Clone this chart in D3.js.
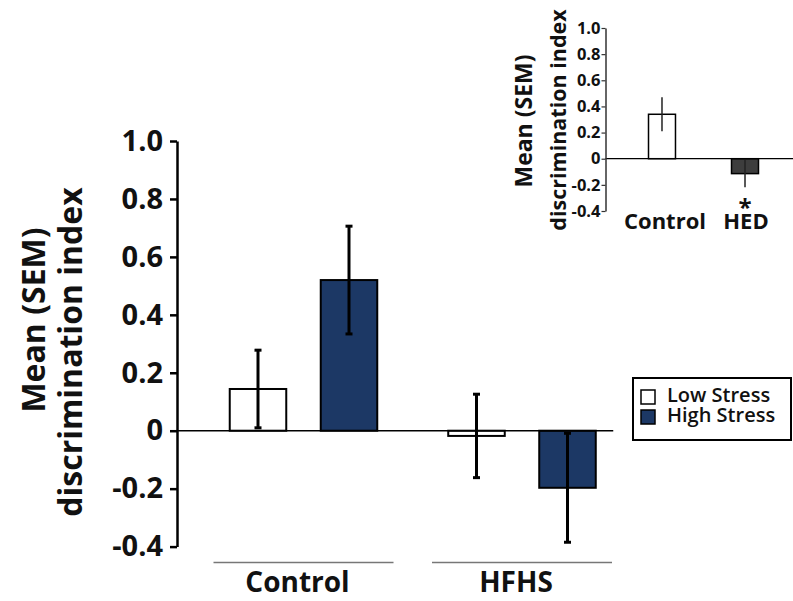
<!DOCTYPE html>
<html>
<head>
<meta charset="utf-8">
<script src="https://cdn.jsdelivr.net/npm/d3@7"></script>
<style>
  html, body { margin: 0; padding: 0; background: #fff; }
  svg { display: block; font-family: "Open Sans", "DejaVu Sans", sans-serif; }
</style>
</head>
<body>
<svg id="chart" width="793" height="601"></svg>
<script>
// ---- Main chart data ----
const groups = ["Control", "HFHS"];
const seriesNames = ["Low Stress", "High Stress"];
const lowStressMean = [0.144, -0.018];
const lowStressSem = [0.134, 0.144];
const highStressMean = [0.52, -0.197];
const highStressSem = [0.186, 0.188];
const mainTicks = [-0.4, -0.2, 0, 0.2, 0.4, 0.6, 0.8, 1.0];
const mainTickLabels = ["-0.4", "-0.2", "0", "0.2", "0.4", "0.6", "0.8", "1.0"];

// ---- Inset data ----
const insetGroups = ["Control", "HED"];
const insetMean = [0.34, -0.114];
const insetSem = [0.13, 0.105];
const insetTickLabels = ["-0.4", "-0.2", "0", "0.2", "0.4", "0.6", "0.8", "1.0"];

const colors = { "Low Stress": "#ffffff", "High Stress": "#1c3865" };
const insetColors = ["#ffffff", "#3d3d3d"];

const svg = d3.select("#chart");

// ================= MAIN CHART =================
const y = d3.scaleLinear().domain([-0.4, 1.0]).range([546.6, 141]);
const x0 = d3.scaleBand().domain(groups).range([194.25, 631.25]).paddingInner(0).paddingOuter(0);
const x1 = d3.scaleBand().domain(seriesNames).range([0, x0.bandwidth()]).paddingInner(0.379).paddingOuter(0.39);
const axisX = 177;

const rows = [];
groups.forEach((g, i) => {
  rows.push({ g, s: "Low Stress", v: lowStressMean[i], e: lowStressSem[i] });
  rows.push({ g, s: "High Stress", v: highStressMean[i], e: highStressSem[i] });
});

// bars
svg.append("g").selectAll("rect").data(rows).join("rect")
  .attr("x", d => x0(d.g) + x1(d.s))
  .attr("width", x1.bandwidth())
  .attr("y", d => y(Math.max(0, d.v)))
  .attr("height", d => Math.abs(y(d.v) - y(0)))
  .attr("fill", d => colors[d.s])
  .attr("stroke", "#000")
  .attr("stroke-width", 2);

// zero line
svg.append("line")
  .attr("x1", axisX).attr("x2", x0("HFHS") + x0.bandwidth() - 18)
  .attr("y1", y(0)).attr("y2", y(0))
  .attr("stroke", "#000").attr("stroke-width", 1.6);

// error bars
const eb = svg.append("g");
rows.forEach(d => {
  const cx = x0(d.g) + x1(d.s) + x1.bandwidth() / 2;
  eb.append("line").attr("x1", cx).attr("x2", cx)
    .attr("y1", y(d.v + d.e)).attr("y2", y(d.v - d.e))
    .attr("stroke", "#000").attr("stroke-width", 3);
  [d.v + d.e, d.v - d.e].forEach(val => {
    eb.append("line").attr("x1", cx - 3.5).attr("x2", cx + 3.5)
      .attr("y1", y(val)).attr("y2", y(val))
      .attr("stroke", "#000").attr("stroke-width", 3);
  });
});

// y axis
const yAxis = d3.axisLeft(y).tickValues(mainTicks)
  .tickFormat((d, i) => mainTickLabels[i]).tickSize(7).tickSizeOuter(0).tickPadding(7);
const gy = svg.append("g").attr("transform", `translate(${axisX},0)`).call(yAxis);
gy.select(".domain").attr("stroke", "#000").attr("stroke-width", 2.5);
gy.selectAll(".tick line").attr("stroke", "#000").attr("stroke-width", 2.5);
gy.selectAll(".tick text").attr("font-size", 29).attr("font-weight", "bold")
  .attr("fill", "#111").attr("font-family", "Open Sans, sans-serif");

// group underlines and labels
groups.forEach(g => {
  const c = x0(g) + x0.bandwidth() / 2;
  svg.append("line").attr("x1", c - 90).attr("x2", c + 90)
    .attr("y1", 562.5).attr("y2", 562.5)
    .attr("stroke", "#777").attr("stroke-width", 1.5);
  svg.append("text").attr("x", c - 6).attr("y", 592)
    .attr("text-anchor", "middle").attr("font-size", 28).attr("font-weight", "bold")
    .attr("fill", "#111").text(g);
});

// y axis title
svg.append("text").attr("transform", "translate(45,320) rotate(-90)")
  .attr("text-anchor", "middle").attr("font-size", 32).attr("font-weight", "bold")
  .attr("fill", "#111").text("Mean (SEM)");
svg.append("text").attr("transform", "translate(82,352) rotate(-90)")
  .attr("text-anchor", "middle").attr("font-size", 32).attr("font-weight", "bold")
  .attr("fill", "#111").text("discrimination index");

// legend
const lg = svg.append("g");
lg.append("rect").attr("x", 633).attr("y", 378).attr("width", 158).attr("height", 62)
  .attr("fill", "#fff").attr("stroke", "#000").attr("stroke-width", 2);
seriesNames.forEach((s, i) => {
  lg.append("rect").attr("x", 641).attr("y", 390 + i * 20).attr("width", 14).attr("height", 14)
    .attr("fill", colors[s]).attr("stroke", "#000").attr("stroke-width", 1.5);
  lg.append("text").attr("x", 667).attr("y", 402 + i * 20)
    .attr("font-size", 20).attr("font-weight", 600).attr("fill", "#111").text(s);
});

// ================= INSET =================
const yi = d3.scaleLinear().domain([-0.4, 1.0]).range([211, 28]);
const xi = d3.scaleBand().domain(insetGroups).range([607, 800]).paddingInner(0.675).paddingOuter(0.5);
const insetAxisX = 605.5;

svg.append("g").selectAll("rect").data(insetGroups).join("rect")
  .attr("x", d => xi(d)).attr("width", xi.bandwidth())
  .attr("y", (d, i) => yi(Math.max(0, insetMean[i])))
  .attr("height", (d, i) => Math.abs(yi(insetMean[i]) - yi(0)))
  .attr("fill", (d, i) => insetColors[i])
  .attr("stroke", "#000").attr("stroke-width", 1.5);

svg.append("line").attr("x1", insetAxisX).attr("x2", 793)
  .attr("y1", yi(0)).attr("y2", yi(0))
  .attr("stroke", "#000").attr("stroke-width", 1.3);

insetGroups.forEach((g, i) => {
  const cx = xi(g) + xi.bandwidth() / 2;
  svg.append("line").attr("x1", cx).attr("x2", cx)
    .attr("y1", yi(insetMean[i] + insetSem[i])).attr("y2", yi(insetMean[i] - insetSem[i]))
    .attr("stroke", "#222").attr("stroke-width", 1.5);
});

// inset y-axis title (drawn before tick labels so labels stay on top)
svg.append("text").attr("transform", "translate(532,121) rotate(-90)")
  .attr("text-anchor", "middle").attr("font-size", 23).attr("font-weight", "bold")
  .attr("fill", "#111").text("Mean (SEM)");
svg.append("text").attr("transform", "translate(566,120) rotate(-90)")
  .attr("text-anchor", "middle").attr("font-size", 21.5).attr("font-weight", "bold")
  .attr("fill", "#111").text("discrimination index");

const yAxisI = d3.axisLeft(yi).tickValues(mainTicks)
  .tickFormat((d, i) => insetTickLabels[i]).tickSize(4).tickSizeOuter(0).tickPadding(1);
const gyi = svg.append("g").attr("transform", `translate(${insetAxisX},0)`).call(yAxisI);
gyi.select(".domain").attr("stroke", "#333").attr("stroke-width", 1.5);
gyi.selectAll(".tick line").attr("stroke", "#333").attr("stroke-width", 1.2);
gyi.selectAll(".tick text").attr("font-size", 16.5).attr("font-weight", "bold")
  .attr("fill", "#111").attr("font-family", "Open Sans, sans-serif");

insetGroups.forEach((g, i) => {
  const c = xi(g) + xi.bandwidth() / 2;
  svg.append("text").attr("x", c + (i === 0 ? 3 : 1)).attr("y", 229)
    .attr("text-anchor", "middle").attr("font-size", 22).attr("font-weight", "bold")
    .attr("fill", "#111").text(g);
});
// significance marker
svg.append("text").attr("x", xi("HED") + xi.bandwidth() / 2).attr("y", 216)
  .attr("text-anchor", "middle").attr("font-size", 24).attr("font-weight", "bold")
  .attr("fill", "#111").text("*");
</script>
</body>
</html>
